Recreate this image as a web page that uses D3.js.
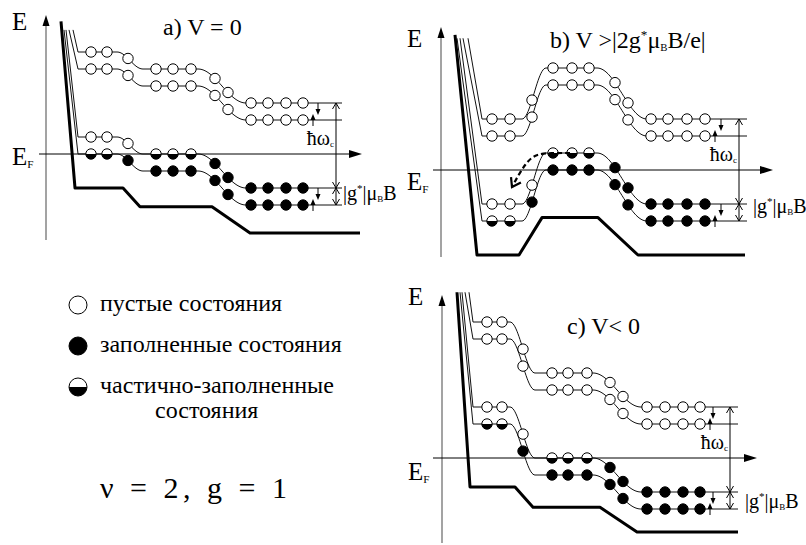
<!DOCTYPE html>
<html>
<head>
<meta charset="utf-8">
<script src="https://cdn.jsdelivr.net/npm/d3@7/dist/d3.min.js"></script>
<style>
  body { margin: 0; background: #fff; }
  svg text { font-family: "Liberation Serif", "DejaVu Serif", "Times New Roman", Times, serif; }
</style>
</head>
<body>
<svg id="chart" width="806" height="545"></svg>
<script>
// energies in units of ħω_c measured from E_F, x in arbitrary distance units
// levels: N=1 spin down, N=1 spin up, N=0 spin down, N=0 spin up
const levelOffsets = [1.2, 1.0, 0.2, 0.0];

// a) V = 0
const aCircleX = [4.5, 6.1, 8.2, 11.0, 12.7, 14.5, 16.9, 18.2, 20.5, 22.2, 24.0, 25.7];
const aStates = ['oooooooooooo', 'oooooooooooo', 'ooohhhffffff', 'hhffffffffff'];
const aPlateauV = [0, -0.2, -0.6];
const aPlateauX = [[3.2, 7.1], [9.7, 15.2], [20.0, 29.6]];
const aWallTopX = [2.7, 2.3, 2.0, 1.8];
const aWallTopE = 1.46;
const aEdgeV = [-0.4, -0.62, -0.93];
const aEdgeX = [[2.9, 7.7], [9.4, 16.6], [20.4, 31.4]];
const aEdgeTop = [1.5, 1.56];

// b) V > |2g*μB B/e|
const bCircleX = [5.1, 6.9, 9.1, 11.2, 13.1, 14.8, 17.4, 18.7, 21.0, 22.7, 24.6, 26.4];
const bStates = ['oooooooooooo', 'oooooooooooo', 'ooohhhffffff', 'hhffffffffff'];
const bPlateauV = [-0.6, 0, -0.6];
const bPlateauX = [[4.1, 8.1], [10.5, 15.6], [20.6, 30.6]];
const bWallTopX = [2.7, 2.2, 1.9, 1.6];
const bWallTopE = 1.55;
const bEdgeV = [-1.0, -0.56, -1.0];
const bEdgeX = [[3.6, 7.8], [10.1, 15.7], [19.7, 30.4]];
const bEdgeTop = [1.4, 1.59];
const bJump = [[12.9, 0.2], [11.0, 0.2], [9.6, 0.19], [8.5, 0.1], [7.1, -0.2]];

// c) V < 0
const cCircleX = [4.5, 6.0, 8.1, 11.0, 12.6, 14.5, 16.8, 18.1, 20.5, 22.3, 24.1, 25.8];
const cStates = ['oooooooooooo', 'oooooooooooo', 'ooohhhffffff', 'hhffffffffff'];
const cPlateauV = [0.4, -0.2, -0.6];
const cPlateauX = [[3.1, 6.8], [9.3, 15.1], [19.9, 29.6]];
const cWallTopX = [2.7, 2.3, 2.0, 1.8];
const cWallTopE = 1.95;
const cEdgeV = [-0.34, -0.58, -0.87];
const cEdgeX = [[2.8, 7.3], [9.1, 15.8], [19.5, 29.6]];
const cEdgeTop = [1.5, 1.95];

// legend
const legendStates = ['o', 'f', 'h'];
const legendLabels = [['пустые состояния'], ['заполненные состояния'], ['частично-заполненные', 'состояния']];

const panels = [
  { circleX: aCircleX, states: aStates, plateauV: aPlateauV, plateauX: aPlateauX, wallTopX: aWallTopX, wallTopE: aWallTopE,
    edgeV: aEdgeV, edgeX: aEdgeX, edgeTop: aEdgeTop, marks: { arrow: 29.0, down: 27.2, up: 26.7 },
    ox: 46, ef: 154, axisTop: 15, axisBottom: 240, efLeft: 39, efRight: 362,
    title: { x: 163, y: 35, parts: [['a) V = 0']] }, eLabel: [12, 30], efLabel: [12, 165], gLabel: [343, 200] },
  { circleX: bCircleX, states: bStates, plateauV: bPlateauV, plateauX: bPlateauX, wallTopX: bWallTopX, wallTopE: bWallTopE,
    edgeV: bEdgeV, edgeX: bEdgeX, edgeTop: bEdgeTop, marks: { arrow: 29.8, down: 28.0, up: 27.4 }, jump: bJump,
    ox: 441, ef: 170, axisTop: 27, axisBottom: 257, efLeft: 433, efRight: 773,
    title: { x: 550, y: 48, parts: [['b) V >|2g'], ['*', 'sup'], ['μ'], ['B', 'sub'], ['B/e|']] },
    eLabel: [407, 47], efLabel: [407, 190], gLabel: [753, 213] },
  { circleX: cCircleX, states: cStates, plateauV: cPlateauV, plateauX: cPlateauX, wallTopX: cWallTopX, wallTopE: cWallTopE,
    edgeV: cEdgeV, edgeX: cEdgeX, edgeTop: cEdgeTop, marks: { arrow: 28.8, down: 27.1, up: 26.8 },
    ox: 442, ef: 458, axisTop: 295, axisBottom: 543, efLeft: 433, efRight: 757,
    title: { x: 567, y: 334, parts: [['c) V< 0']] }, eLabel: [408, 305], efLabel: [408, 480], gLabel: [745, 508] }
];

const FONT = 'Liberation Serif';
const svg = d3.select('#chart');
const R = 5.2;
const ease = t => 0.5 - 0.5 * Math.cos(Math.PI * t);

function label(g, x, y, size) {
  return g.append('text').attr('x', x).attr('y', y).attr('font-size', size)
    .attr('font-family', FONT).style('font-family', FONT);
}

function potentialAt(p, x) {
  const px = p.plateauX, pv = p.plateauV;
  if (x <= px[0][1]) return pv[0];
  for (let i = 1; i < px.length; i++) {
    const x0 = px[i - 1][1], x1 = px[i][0];
    if (x < x1) return pv[i - 1] + (pv[i] - pv[i - 1]) * ease((x - x0) / (x1 - x0));
    if (x <= px[i][1]) return pv[i];
  }
  return pv[pv.length - 1];
}

// text made of plain / superscript / subscript pieces
function addParts(sel, parts, size) {
  let shift = 0;
  parts.forEach(([s, kind]) => {
    const t = sel.append('tspan').text(s);
    let target = 0;
    if (kind === 'sup') { target = -size * 0.38; t.attr('font-size', size * 0.55); }
    if (kind === 'sub') { target = size * 0.12; t.attr('font-size', size * 0.45); }
    if (target !== shift) t.attr('dy', target - shift);
    shift = target;
  });
}

function drawState(g, cx, cy, r, state) {
  g.append('circle').attr('cx', cx).attr('cy', cy).attr('r', r)
    .attr('fill', state === 'f' ? '#000' : '#fff').attr('stroke', '#000').attr('stroke-width', 1);
  if (state === 'h') {
    g.append('path').attr('transform', `translate(${cx},${cy})`)
      .attr('d', d3.arc()({ innerRadius: 0, outerRadius: r, startAngle: Math.PI / 2, endAngle: Math.PI * 1.5 }))
      .attr('fill', '#000');
  }
}

function arrowHead(g, x, y, dir, len, w) {
  // filled triangle, dir 1 points down, -1 points up
  g.append('path').attr('d', `M${x},${y} L${x - w / 2},${y - dir * len} L${x + w / 2},${y - dir * len} Z`).attr('fill', '#000');
}

panels.forEach(p => {
  const x = d3.scaleLinear().domain([0, 30]).range([p.ox, p.ox + 300]);
  const y = d3.scaleLinear().domain([0, 1]).range([p.ef, p.ef - 85]);
  const g = svg.append('g');
  const line = d3.line().x(d => x(d[0])).y(d => y(d[1]));

  // axes
  g.append('line').attr('x1', p.ox).attr('x2', p.ox).attr('y1', p.axisBottom).attr('y2', p.axisTop + 8)
    .attr('stroke', '#666').attr('stroke-width', 1.2);
  g.append('path').attr('d', `M${p.ox},${p.axisTop} L${p.ox - 3.5},${p.axisTop + 11} L${p.ox + 3.5},${p.axisTop + 11} Z`).attr('fill', '#000');
  g.append('line').attr('x1', p.efLeft).attr('x2', p.efRight - 8).attr('y1', p.ef).attr('y2', p.ef)
    .attr('stroke', '#000').attr('stroke-width', 1);
  g.append('path').attr('d', `M${p.efRight},${p.ef} L${p.efRight - 13},${p.ef - 4} L${p.efRight - 13},${p.ef + 4} Z`).attr('fill', '#000');

  // band edge (bold)
  const edgePts = [p.edgeTop];
  p.edgeX.forEach((xr, i) => { edgePts.push([xr[0], p.edgeV[i]], [xr[1], p.edgeV[i]]); });
  g.append('path').attr('d', line(edgePts)).attr('fill', 'none').attr('stroke', '#000')
    .attr('stroke-width', 3).attr('stroke-linejoin', 'round');

  // Landau / spin levels
  const xs0 = p.plateauX[0][0], xs1 = p.plateauX[p.plateauX.length - 1][1];
  const xs = d3.range(xs0, xs1, 0.1).concat([xs1]);
  levelOffsets.forEach((off, k) => {
    const pts = [[p.wallTopX[k], p.wallTopE]].concat(xs.map(v => [v, off + potentialAt(p, v)]));
    g.append('path').attr('d', line(pts)).attr('fill', 'none').attr('stroke', '#111').attr('stroke-width', 1);
  });

  // right-hand markers
  const m = p.marks;
  const yl = levelOffsets.map(off => y(off + p.plateauV[p.plateauV.length - 1]));
  const ax = x(m.arrow);
  g.append('line').attr('x1', ax).attr('x2', ax).attr('y1', yl[0]).attr('y2', yl[3]).attr('stroke', '#000').attr('stroke-width', 1);
  [[yl[0], -1], [yl[2], 1], [yl[2], -1], [yl[3], 1]].forEach(([yy, dir]) => {
    g.append('path').attr('d', `M${ax - 3.5},${yy - dir * 6} L${ax},${yy} L${ax + 3.5},${yy - dir * 6}`)
      .attr('fill', 'none').attr('stroke', '#000').attr('stroke-width', 1);
  });
  [0, 2].forEach(k => {
    const xd = x(m.down);
    g.append('line').attr('x1', xd).attr('x2', xd).attr('y1', yl[k]).attr('y2', yl[k] + 6).attr('stroke', '#000');
    arrowHead(g, xd, yl[k] + 12, 1, 6, 5);
    const xu = x(m.up);
    g.append('line').attr('x1', xu).attr('x2', xu).attr('y1', yl[k + 1] + 6).attr('y2', yl[k + 1] - 1).attr('stroke', '#000');
    arrowHead(g, xu, yl[k + 1] - 6, -1, 6, 5);
  });

  // states
  levelOffsets.forEach((off, k) => {
    p.circleX.forEach((cx, i) => drawState(g, x(cx), y(off + potentialAt(p, cx)), R, p.states[k][i]));
  });

  // tunnelling arrow
  if (p.jump) {
    const jl = d3.line().x(d => x(d[0])).y(d => y(d[1])).curve(d3.curveBasis);
    g.append('path').attr('d', jl(p.jump)).attr('fill', 'none').attr('stroke', '#000')
      .attr('stroke-width', 2.2).attr('stroke-dasharray', '5,3');
    const tip = p.jump[p.jump.length - 1], prev = p.jump[p.jump.length - 2];
    const tx = x(tip[0]), ty = y(tip[1]);
    const ang = Math.atan2(ty - y(prev[1]), tx - x(prev[0]));
    const a1 = ang + Math.PI - 0.6, a2 = ang + Math.PI + 0.6;
    g.append('path').attr('d', `M${tx + 10 * Math.cos(a1)},${ty + 10 * Math.sin(a1)} L${tx},${ty} L${tx + 10 * Math.cos(a2)},${ty + 10 * Math.sin(a2)}`)
      .attr('fill', 'none').attr('stroke', '#000').attr('stroke-width', 2.2);
  }

  // labels
  addParts(label(g, p.title.x, p.title.y, 24), p.title.parts, 24);
  label(g, p.eLabel[0], p.eLabel[1], 25).text('E');
  addParts(label(g, p.efLabel[0], p.efLabel[1], 25), [['E'], ['F', 'sub']], 25);
  addParts(label(g, ax - 2, p.ef - 9, 20).attr('text-anchor', 'end'), [['ħω'], ['c', 'sub']], 20);
  addParts(label(g, p.gLabel[0], p.gLabel[1], 20), [['|g'], ['*', 'sup'], ['|μ'], ['B', 'sub'], ['B']], 20);
});

// legend
const lg = svg.append('g');
const legendY = d3.scaleLinear().domain([0, 2]).range([305, 387]);
legendStates.forEach((s, i) => {
  drawState(lg, 78, legendY(i), 9, s);
  legendLabels[i].forEach((txt, j) => {
    label(lg, j === 0 ? 100 : 155, legendY(i) + 6 + j * 25, 24).text(txt);
  });
});

label(svg, 100, 498, 30).attr('textLength', 187).attr('lengthAdjust', 'spacing').text('ν = 2, g = 1');
</script>
</body>
</html>
